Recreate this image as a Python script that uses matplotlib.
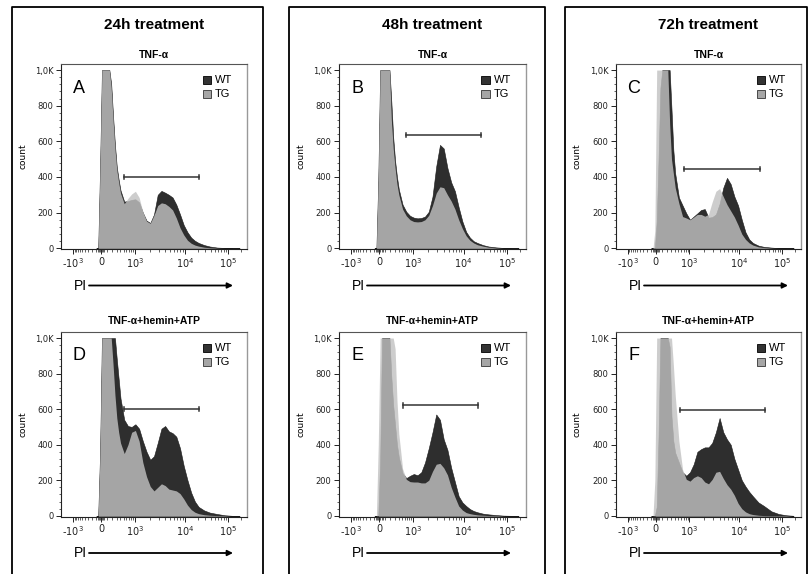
import numpy as np
import matplotlib.pyplot as plt
from matplotlib.lines import Line2D
from matplotlib.patches import Rectangle

plt.rcParams['font.family'] = ['Liberation Sans', 'DejaVu Sans']
plt.rcParams['mathtext.fontset'] = 'dejavusans'

W, H = 808, 574

# channel position along the PI axis (fraction of axis width)
pi_pos = [0.19, 0.20, 0.21, 0.22, 0.23, 0.24, 0.25, 0.26, 0.27, 0.28, 0.29,
          0.30, 0.31, 0.32, 0.34, 0.36, 0.38, 0.40, 0.42, 0.44, 0.46, 0.48,
          0.50, 0.52, 0.54, 0.56, 0.58, 0.60, 0.62, 0.64, 0.66, 0.68, 0.70,
          0.72, 0.74, 0.77, 0.80, 0.84, 0.88, 0.92, 0.96]

# counts (1000 = off scale)
wt_a = [0, 0, 450, 1000, 1000, 1000, 1000, 1000, 920, 740, 580, 455, 385, 325,
        262, 265, 272, 275, 258, 200, 155, 142, 190, 300, 322, 312, 300, 285,
        245, 190, 130, 90, 60, 42, 30, 18, 10, 4, 2, 0, 0]
tg_a = [0, 0, 450, 1000, 1000, 1000, 1000, 1000, 900, 720, 560, 440, 370, 310,
        250, 280, 305, 320, 285, 205, 152, 140, 185, 240, 255, 250, 235, 215,
        170, 115, 75, 45, 28, 18, 12, 6, 3, 1, 0, 0, 0]

wt_b = [0, 0, 380, 1000, 1000, 1000, 1000, 1000, 1000, 820, 620, 490, 400, 330,
        245, 205, 182, 172, 168, 170, 178, 205, 290, 460, 580, 560, 450, 370,
        320, 230, 150, 92, 60, 40, 30, 18, 10, 5, 2, 0, 0]
tg_b = [0, 0, 380, 1000, 1000, 1000, 1000, 1000, 1000, 720, 560, 450, 360, 300,
        220, 182, 160, 150, 148, 150, 160, 185, 240, 310, 345, 340, 300, 265,
        220, 160, 110, 70, 45, 30, 20, 12, 6, 2, 0, 0, 0]

wt_c = [0, 0, 0, 150, 500, 900, 1000, 1000, 1000, 1000, 1000, 780, 550, 420,
        285, 240, 196, 160, 178, 196, 215, 220, 172, 175, 190, 250, 340, 395,
        360, 290, 240, 160, 90, 50, 30, 15, 8, 4, 1, 0, 0]
tg_c = [0, 0, 100, 1000, 1000, 1000, 1000, 1000, 1000, 1000, 700, 500, 420, 340,
        252, 178, 170, 160, 175, 190, 190, 180, 190, 260, 320, 335, 290, 245,
        210, 175, 130, 80, 50, 30, 18, 8, 4, 1, 0, 0, 0]

wt_d = [0, 0, 350, 1000, 1000, 1000, 1000, 1000, 1000, 1000, 1000, 880, 770,
        660, 540, 505, 500, 515, 490, 420, 360, 315, 335, 410, 490, 505, 475,
        465, 445, 380, 280, 200, 130, 80, 50, 30, 18, 10, 3, 0, 0]
tg_d = [0, 0, 350, 1000, 1000, 1000, 1000, 1000, 1000, 850, 680, 550, 470, 410,
        350, 400, 470, 480, 420, 300, 220, 165, 140, 160, 180, 170, 150, 145,
        140, 125, 95, 60, 35, 20, 12, 6, 3, 1, 0, 0, 0]

wt_e = [0, 0, 0, 300, 1000, 1000, 1000, 1000, 1000, 780, 620, 510, 400, 330,
        240, 212, 225, 235, 228, 245, 300, 380, 470, 570, 540, 430, 370, 270,
        190, 110, 75, 55, 38, 27, 20, 12, 8, 4, 1, 0, 0]
tg_e = [0, 0, 400, 1000, 1000, 1000, 1000, 1000, 1000, 1000, 1000, 940, 650,
        460, 265, 205, 192, 190, 190, 185, 185, 200, 250, 290, 295, 270, 230,
        160, 105, 55, 32, 18, 12, 8, 5, 3, 1, 0, 0, 0, 0]

wt_f = [0, 0, 0, 50, 450, 1000, 1000, 1000, 1000, 1000, 950, 560, 420, 355,
        300, 245, 225, 245, 290, 360, 375, 385, 385, 410, 470, 550, 470, 430,
        400, 320, 260, 200, 165, 135, 110, 75, 55, 25, 10, 3, 0]
tg_f = [0, 0, 200, 1000, 1000, 1000, 1000, 1000, 1000, 1000, 1000, 1000, 850,
        680, 420, 260, 205, 195, 215, 225, 215, 190, 180, 205, 245, 250, 210,
        175, 150, 115, 70, 40, 22, 12, 7, 3, 1, 0, 0, 0, 0]

# gate bars: start, end (axis fraction), height (count)
gate_a = [0.339, 0.742, 400]
gate_b = [0.358, 0.759, 636]
gate_c = [0.369, 0.778, 445]
gate_d = [0.339, 0.744, 600]
gate_e = [0.340, 0.744, 622]
gate_f = [0.344, 0.805, 596]

times = ['24h treatment', '48h treatment', '72h treatment']
treatments = ['TNF-α', 'TNF-α+hemin+ATP']
letters = ['A', 'B', 'C', 'D', 'E', 'F']
y_ticks = [0, 200, 400, 600, 800, 1000]
y_labels = ['0', '200', '400', '600', '800', '1,0K']
x_major = [-1000, 0, 1000, 10000, 100000]
x_labels = [r'-$10^3$', '0', r'$10^3$', r'$10^4$', r'$10^5$']

panels = [(wt_a, tg_a, gate_a), (wt_b, tg_b, gate_b), (wt_c, tg_c, gate_c),
          (wt_d, tg_d, gate_d), (wt_e, tg_e, gate_e), (wt_f, tg_f, gate_f)]


def pi_tick(v):
    # logicle-like scale: log above 10^3, compressed around zero
    if v >= 1000:
        d = np.log10(v)
        if d <= 4:
            return 0.397 + (d - 3) * 0.27
        return 0.667 + (d - 4) * 0.23
    s = np.arcsinh(abs(v) / 300) / np.arcsinh(1000 / 300)
    if v >= 0:
        return 0.215 + 0.182 * s
    return 0.215 - 0.15 * s


x_minor = ([-v for v in range(100, 1000, 100)] + [-60, -40, -20, 20, 40, 60]
           + list(range(100, 1000, 100)) + [k * 1000 for k in range(2, 10)]
           + [k * 10000 for k in range(2, 10)] + [200000])

col_left = [61, 339, 616]
col_width = [186, 187, 185]
row_top = [64, 332]
row_bottom = [249, 516.5]
box_x = [(12, 263), (289, 545), (565, 806.5)]


def fx(x):
    return x / W


def fy(y):
    return 1 - y / H


fig = plt.figure(figsize=(W / 100, H / 100), dpi=100)

for c in range(3):
    x0, x1 = box_x[c]
    fig.add_artist(Line2D([fx(x0), fx(x0), fx(x1), fx(x1)],
                          [fy(H + 5), fy(7.3), fy(7.3), fy(H + 5)],
                          transform=fig.transFigure, color='k', lw=1.3))
    cx = col_left[c] + col_width[c] / 2
    fig.text(fx(cx), fy(25), times[c], ha='center', va='center',
             fontsize=11, fontweight='bold')

for i, (wt, tg, gate) in enumerate(panels):
    r, c = divmod(i, 3)
    left, width = col_left[c], col_width[c]
    top, bottom = row_top[r], row_bottom[r]
    ax = fig.add_axes([fx(left), fy(bottom), width / W, (bottom - top) / H])

    ax.fill_between(pi_pos, wt, color='#2e2e2e', lw=0.4, edgecolor='#1a1a1a')
    ax.fill_between(pi_pos, tg, color='#c2c2c2', alpha=0.81, lw=0)
    ax.set_xlim(0, 1)
    ax.set_ylim(-4, 1034)

    g0, g1, gy = gate
    ax.plot([g0, g1], [gy, gy], color='#333333', lw=1.1)
    ax.plot([g0, g0], [gy - 13, gy + 13], color='#333333', lw=1.1)
    ax.plot([g1, g1], [gy - 13, gy + 13], color='#333333', lw=1.1)

    ax.set_yticks(y_ticks, y_labels, fontsize=6, color='#222222',
                  family='DejaVu Sans')
    ax.set_yticks(np.arange(40, 1000, 40), minor=True)
    ax.set_xticks([pi_tick(v) for v in x_major], x_labels, fontsize=7,
                  color='#222222', family='DejaVu Sans')
    ax.set_xticks([pi_tick(v) for v in x_minor], minor=True)
    ax.tick_params(which='major', length=3.5, width=0.7, pad=2, colors='#222222')
    ax.tick_params(which='minor', length=1.8, width=0.5, colors='#222222')
    for side in ['left', 'bottom']:
        ax.spines[side].set_color('#222222')
        ax.spines[side].set_linewidth(0.8)
    ax.spines['top'].set_color('#555555')
    ax.spines['right'].set_color('#999999')
    ax.spines['top'].set_linewidth(0.8)
    ax.spines['right'].set_linewidth(1.0)

    ax.set_ylabel('count', fontsize=6.5, family='DejaVu Sans')
    ax.yaxis.set_label_coords(-34 / width, 0.5)

    ax.text(0.097, 0.87, letters[i], transform=ax.transAxes, fontsize=13,
            ha='center', va='center')
    ax.add_patch(Rectangle((0.762, 0.893), 0.043, 0.043, transform=ax.transAxes,
                           facecolor='#333333', edgecolor='k', lw=0.6))
    ax.add_patch(Rectangle((0.762, 0.817), 0.043, 0.043, transform=ax.transAxes,
                           facecolor='#a6a6a6', edgecolor='#333333', lw=0.6))
    ax.text(0.828, 0.914, 'WT', transform=ax.transAxes, fontsize=8, va='center')
    ax.text(0.828, 0.838, 'TG', transform=ax.transAxes, fontsize=8, va='center')

    sub_y = 54.5 if r == 0 else 320.7
    fig.text(fx(left + width / 2), fy(sub_y), treatments[r], ha='center',
             va='center', fontsize=7.5, fontweight='bold')

    py = bottom + 36.5
    fig.text(fx(left + 13), fy(py), 'PI', fontsize=10, ha='left', va='center')
    ax.annotate('', xy=(fx(left + 172), fy(py)), xytext=(fx(left + 28), fy(py)),
                xycoords='figure fraction',
                arrowprops=dict(arrowstyle='-|>', color='k', lw=1.3,
                                mutation_scale=8, shrinkA=0, shrinkB=0))

fig.savefig('out.png', dpi=100)
